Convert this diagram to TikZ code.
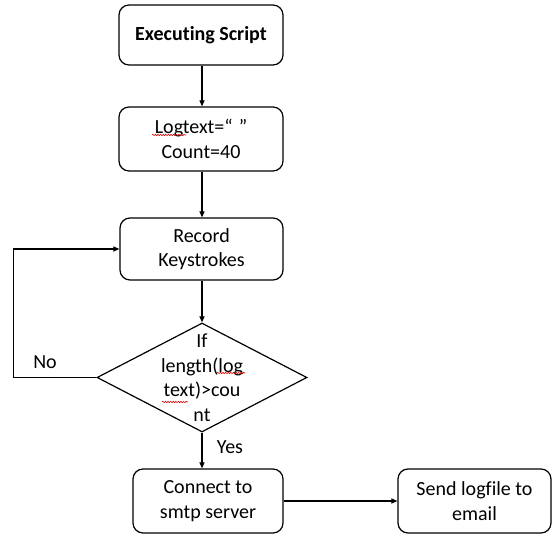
\documentclass[tikz,border=0pt]{standalone}
\usepackage{fontspec}
\setmainfont{Carlito}[Ligatures=NoCommon]
\usetikzlibrary{shapes.geometric,arrows.meta,decorations.pathmorphing}
\begin{document}
\begin{tikzpicture}[x=1pt,y=1pt,
  box/.style={draw, line width=1.2pt, rounded corners=10pt, align=center, inner sep=0pt,
    font=\fontsize{20}{24.5}\selectfont},
  arr/.style={line width=1.1pt, -{Triangle[length=6pt,width=5pt]}},
  lbl/.style={font=\fontsize{20}{24.5}\selectfont},
  squig/.style={red!85!black, line width=0.6pt, decorate, decoration={snake, amplitude=0.7pt, segment length=2.6pt}}]
\useasboundingbox (0,0) rectangle (553,537);
\node[box, minimum width=164pt, minimum height=60pt, font=\bfseries\fontsize{20}{24}\selectfont] (b1) at (201,502) {Executing Script};
\node[box, minimum width=164pt, minimum height=64pt] (b2) at (201,398) {Logtext=“\hspace{6pt}”\\Count=40};
\node[box, minimum width=163pt, minimum height=62pt] (b3) at (201.5,288) {Record\\Keystrokes};
\node[draw, diamond, line width=1.2pt, minimum width=210pt, minimum height=109pt, inner sep=0pt] (dec) at (202,159.5) {};
\node[lbl, align=center] (dectext) at (dec) {If\\length(log\\text)>cou\\nt};
\node[box, minimum width=150pt, minimum height=64pt] (b4) at (208,36) {Connect to\\smtp server};
\node[box, minimum width=153pt, minimum height=64pt] (b5) at (474.5,36) {Send logfile to\\email};
\node[lbl] (no) at (45,175) {No};
\node[lbl] (yes) at (230,90) {Yes};
\draw[arr] (b1.south -| dec.north) -- (b2.north -| dec.north);
\draw[arr] (b2.south -| dec.north) -- (b3.north -| dec.north);
\draw[arr] (b3.south -| dec.north) -- (dec.north);
\draw[arr] (dec.west) -- ++(-83,0) |- (b3.west);
\draw[arr] (dec.south) -- (dec.south |- b4.north);
\draw[arr] (b4.east) -- (b4.east -| b5.west);
\draw[squig] (152,402) -- (186,402);
\draw[squig] (217,164) -- (245,164);
\draw[squig] (162,135) -- (188,135);
\end{tikzpicture}
\end{document}
